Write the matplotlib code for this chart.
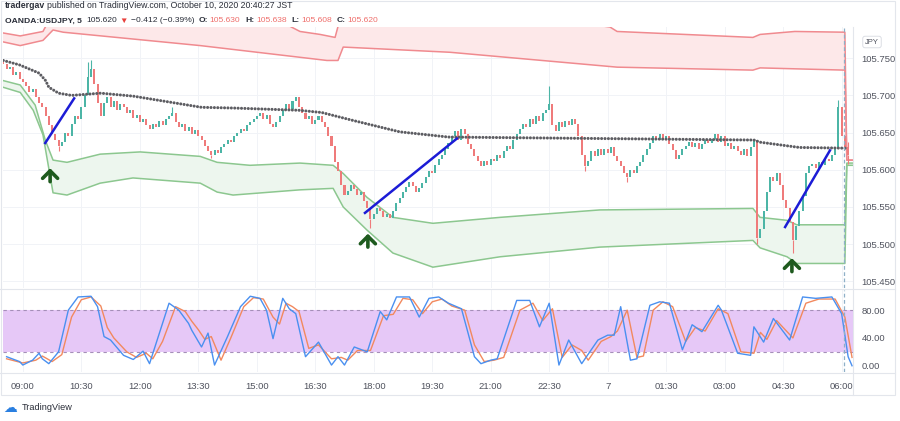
import matplotlib
matplotlib.use("Agg")
import matplotlib.pyplot as plt
import numpy as np

# ---- price data (5-minute bars, index 0 = 09:00) ----
first_index = -6
first_open = 105.745
closes = [
    105.742, 105.735, 105.738, 105.728, 105.732, 105.722,
    105.718, 105.712, 105.705, 105.708, 105.698, 105.690, 105.684,
    105.672, 105.660, 105.648, 105.640, 105.632,
    105.638, 105.650, 105.645, 105.662, 105.672, 105.668, 105.685,
    105.700, 105.725, 105.735, 105.715, 105.690, 105.672,
    105.690, 105.698, 105.685, 105.692, 105.680, 105.688,
    105.684, 105.676, 105.680, 105.670, 105.673, 105.664, 105.668, 105.660,
    105.655, 105.662, 105.658, 105.666, 105.660, 105.668, 105.672, 105.676, 105.664,
    105.658, 105.662, 105.652, 105.657, 105.648, 105.654, 105.645,
    105.640, 105.632, 105.625, 105.620, 105.626, 105.622, 105.630,
    105.634, 105.640, 105.637, 105.646, 105.650, 105.655, 105.652, 105.660, 105.664, 105.668,
    105.672, 105.676, 105.668, 105.674, 105.662, 105.658, 105.664,
    105.672, 105.680, 105.688, 105.682, 105.692, 105.698, 105.684,
    105.676, 105.668, 105.672, 105.662, 105.667, 105.672, 105.664,
    105.658, 105.645, 105.632, 105.610, 105.598, 105.580, 105.566,
    105.572, 105.580, 105.574, 105.566, 105.570, 105.558, 105.548,
    105.534, 105.540, 105.548, 105.544, 105.536, 105.540, 105.535,
    105.545, 105.555, 105.562, 105.570, 105.577, 105.584,
    105.578, 105.570, 105.575, 105.582,
    105.590, 105.598, 105.595, 105.606, 105.614, 105.620, 105.628, 105.636,
    105.645, 105.652, 105.640, 105.655, 105.648, 105.635, 105.628,
    105.618, 105.612, 105.605, 105.612, 105.606, 105.615,
    105.612, 105.620, 105.616, 105.625, 105.632, 105.628, 105.640,
    105.648, 105.655, 105.662, 105.658, 105.668, 105.662, 105.672, 105.666, 105.676, 105.680,
    105.688, 105.660, 105.652, 105.664, 105.658, 105.665, 105.660, 105.668, 105.662,
    105.645, 105.620, 105.605, 105.612, 105.625, 105.618, 105.628,
    105.620, 105.628, 105.622, 105.630, 105.618, 105.612,
    105.605, 105.596, 105.590, 105.600, 105.595, 105.605, 105.610,
    105.620, 105.628, 105.636, 105.645, 105.640, 105.648, 105.642, 105.646,
    105.635, 105.626, 105.615, 105.620, 105.628,
    105.632, 105.638, 105.630, 105.636, 105.628, 105.634, 105.640, 105.636,
    105.642, 105.648, 105.638, 105.645, 105.632, 105.636,
    105.628, 105.632, 105.625, 105.620, 105.628, 105.618, 105.630, 105.640,
    105.508, 105.520, 105.545,
    105.570, 105.590, 105.585, 105.595, 105.580,
    105.560, 105.548, 105.530, 105.505,
    105.525, 105.545, 105.565,
    105.595, 105.605, 105.608, 105.602, 105.610, 105.606, 105.615, 105.612, 105.620,
    105.628, 105.685, 105.645, 105.630, 105.620,
]
high_spikes = {20: 105.745, 21: 105.748, 46: 105.684, 162: 105.712, 226: 105.640,
               251: 105.694, 254: 105.638}
low_spikes = {11: 105.625, 58: 105.616, 107: 105.522, 173: 105.598, 186: 105.584,
              226: 105.500, 237: 105.488, 254: 105.608}

# VWAP (grey dots)
vwap_idx = [-6, -1, 5, 7, 8, 11, 15, 24, 34, 55, 65, 85, 92, 101, 116, 131, 178, 225, 227, 239, 254]
vwap_px = [105.747, 105.741, 105.730, 105.720, 105.711, 105.703, 105.700, 105.703, 105.699,
           105.684, 105.683, 105.680, 105.677, 105.667, 105.651, 105.644, 105.642, 105.640,
           105.637, 105.630, 105.629]

# upper bands (red)
up2_idx = [-6.1, -0.8, 6.2, 8.4, 39.2, 82.2, 85.3, 91.5, 96.1, 98, 146.9, 180.7, 182.9,
           224.7, 226.9, 237.6, 253, 253.6, 255.5]
up2_px = [105.784, 105.780, 105.786, 105.804, 105.812, 105.793, 105.786, 105.782, 105.778,
          105.809, 105.812, 105.792, 105.786, 105.778, 105.782, 105.786, 105.785, 105.613, 105.613]
up1_idx = [-6.1, -0.8, 6.2, 9.3, 12.4, 54.6, 93.6, 97, 98.6, 131.5, 182.9, 224.7, 226.9,
           253, 253.6, 255.5]
up1_px = [105.772, 105.767, 105.774, 105.788, 105.785, 105.767, 105.747, 105.747, 105.765,
          105.758, 105.738, 105.734, 105.737, 105.734, 105.613, 105.613]

# lower bands (green)
lo1_idx = [-6.1, -0.8, 3.8, 6.9, 9.3, 13.6, 23.8, 36.1, 54.6, 59.8, 69.9, 85.3, 95.5, 98.6,
           105.9, 113.9, 126.2, 146.9, 177.6, 224.7, 226.9, 235.2, 238.2, 253, 253.6, 255.5]
lo1_px = [105.720, 105.714, 105.687, 105.640, 105.613, 105.610, 105.621, 105.624, 105.618,
          105.610, 105.606, 105.609, 105.606, 105.595, 105.563, 105.536, 105.528, 105.536,
          105.546, 105.548, 105.536, 105.532, 105.526, 105.526, 105.609, 105.609]
lo2_idx = [-6.1, -0.8, 3.2, 6.2, 9.3, 13.6, 23.8, 33.9, 54.6, 59.8, 64.7, 85.3, 95.5, 98.6,
           105.9, 113.9, 126.2, 146.9, 177.6, 224.7, 226.9, 235.2, 238.2, 253, 253.6, 255.5]
lo2_px = [105.711, 105.704, 105.680, 105.647, 105.569, 105.566, 105.582, 105.589, 105.582,
          105.570, 105.566, 105.573, 105.575, 105.550, 105.519, 105.488, 105.469, 105.483,
          105.496, 105.505, 105.495, 105.483, 105.474, 105.474, 105.606, 105.606]

# trend lines and arrows drawn by the author
trend_lines = [((6.9, 105.636), (15.8, 105.696)),
               ((105.3, 105.542), (133.6, 105.642)),
               ((234.6, 105.523), (248.4, 105.626))]
arrow_idx = [8.4, 106.2, 236.7]
arrow_px = [105.593, 105.505, 105.472]

# Stoch RSI
k_idx = [-5, -1, 0, 3, 5, 6, 8, 11, 14, 17, 21, 23, 25, 27, 31, 34, 37, 39, 41, 45, 48, 51,
         52, 55, 57, 59, 63, 67, 70, 73, 75, 77, 80, 82, 84, 87, 91, 95, 97, 99, 102, 106,
         110, 112, 115, 119, 122, 125, 128, 131, 135, 139, 141, 144, 146, 152, 156, 159,
         162, 165, 168, 170, 172, 177, 180, 182, 184, 187, 189, 193, 196, 199, 203, 206,
         209, 214, 215, 220, 224, 225, 228, 231, 236, 240, 244, 249, 252, 254, 255.2]
k_val = [13, 6, 1, 8, 18, 10, 3, 20, 80, 99, 100, 85, 42, 37, 15, 9, 21, 3, 32, 90, 80, 61,
         51, 27, 47, 1, 42, 85, 100, 97, 80, 39, 97, 82, 75, 13, 34, 1, 13, 1, 27, 20,
         78, 66, 99, 99, 70, 97, 99, 90, 82, 13, 3, 8, 10, 94, 94, 56,
         90, 1, 37, 20, 3, 37, 44, 44, 85, 8, 10, 87, 92, 90, 23, 59,
         49, 87, 80, 18, 15, 56, 34, 68, 37, 99, 97, 99, 75, 13, 0]
d_idx = [-5, 0, 4, 6, 9, 12, 15, 18, 21, 24, 26, 28, 32, 35, 38, 40, 43, 47, 50, 52, 54,
         56, 58, 61, 64, 68, 71, 74, 77, 79, 81, 83, 85, 88, 91, 95, 98, 100, 103, 107,
         111, 114, 117, 120, 123, 126, 129, 132, 136, 139, 142, 145, 148, 153, 157, 160,
         163, 166, 169, 172, 174, 178, 181, 183, 186, 189, 191, 194, 197, 200, 204, 207,
         210, 214, 217, 221, 225, 227, 229, 232, 237, 241, 245, 250, 253, 255.2]
d_val = [10, 4, 8, 14, 6, 16, 70, 95, 99, 86, 55, 40, 20, 12, 18, 10, 35, 85, 78, 64, 52,
         38, 42, 8, 40, 85, 98, 96, 70, 60, 90, 85, 78, 25, 30, 10, 12, 8, 22, 22,
         72, 74, 97, 95, 75, 92, 96, 86, 80, 30, 6, 8, 12, 80, 90, 65,
         82, 12, 30, 22, 8, 35, 42, 50, 80, 12, 14, 80, 92, 85, 35, 55,
         50, 82, 75, 20, 18, 48, 38, 65, 40, 90, 96, 96, 70, 12]

time_ticks = [0, 18, 36, 54, 72, 90, 108, 126, 144, 162, 180, 198, 216, 234, 252]
time_labels = ["09:00", "10:30", "12:00", "13:30", "15:00", "16:30", "18:00", "19:30",
               "21:00", "22:30", "7", "01:30", "03:00", "04:30", "06:00"]
price_ticks = [105.45, 105.50, 105.55, 105.60, 105.65, 105.70, 105.75]
osc_ticks = [0, 40, 80]

# ---- figure ----
W, H = 900, 421
fig = plt.figure(figsize=(W / 100, H / 100), dpi=100)
fig.patch.set_facecolor("white")
plt.rcParams["font.family"] = ["Liberation Sans", "DejaVu Sans"]


def fpos(x, y):
    return x / W, 1 - y / H


ax = fig.add_axes([3 / W, 1 - 288 / H, 850 / W, 261 / H])
ax2 = fig.add_axes([3 / W, 1 - 372 / H, 850 / W, 82 / H])

XMIN, XMAX = -6.1, 255.5
grid_c = "#f1f3f7"
for a in (ax, ax2):
    a.set_xlim(XMIN, XMAX)
    for s in a.spines.values():
        s.set_visible(False)
    for t in time_ticks:
        a.axvline(t, color=grid_c, lw=0.7, zorder=0)
    a.yaxis.tick_right()
    a.tick_params(axis="y", length=0, labelsize=6.8, labelcolor="#50535e", pad=6)
    a.tick_params(axis="x", length=0)

ax.set_ylim(105.441, 105.792)
for p in price_ticks:
    ax.axhline(p, color=grid_c, lw=0.7, zorder=0)
ax.set_yticks(price_ticks)
ax.set_yticklabels([f"{p:.3f}" for p in price_ticks])
ax.set_xticks([])

# bands
ax.fill(np.concatenate([up2_idx, up1_idx[::-1]]), np.concatenate([up2_px, up1_px[::-1]]),
        color="#fde8e9", lw=0, zorder=1)
ax.plot(up2_idx, up2_px, color="#f08a8f", lw=1.1, zorder=2)
ax.plot(up1_idx, up1_px, color="#f08a8f", lw=1.1, zorder=2)
ax.fill(np.concatenate([lo1_idx, lo2_idx[::-1]]), np.concatenate([lo1_px, lo2_px[::-1]]),
        color="#edf6ee", lw=0, zorder=1)
ax.plot(lo1_idx, lo1_px, color="#8cc78f", lw=1.1, zorder=2)
ax.plot(lo2_idx, lo2_px, color="#8cc78f", lw=1.1, zorder=2)

# candles
idx = np.arange(first_index, first_index + len(closes))
closes_a = np.array(closes)
opens_a = np.concatenate([[first_open], closes_a[:-1]])
up = closes_a >= opens_a
col = np.where(up, "#4cb5a6", "#ef7b7b")
body_lo = np.minimum(opens_a, closes_a)
body_h = np.maximum(np.abs(closes_a - opens_a), 0.0012)
for i, hi in high_spikes.items():
    k = i - first_index
    ax.vlines(i, max(opens_a[k], closes_a[k]), hi, color=col[k], lw=0.8, zorder=3)
for i, lo in low_spikes.items():
    k = i - first_index
    ax.vlines(i, lo, min(opens_a[k], closes_a[k]), color=col[k], lw=0.8, zorder=3)
ax.bar(idx, body_h, bottom=body_lo, width=0.62, color=col, lw=0, zorder=3)

# VWAP dots
ax.plot(vwap_idx, vwap_px, color="#5d5d62", lw=2.2, ls=(0, (0.01, 1.1)),
        dash_capstyle="round", zorder=4)

# trend lines and arrows
for (x0, y0), (x1, y1) in trend_lines:
    ax.plot([x0, x1], [y0, y1], color="#1c1cd6", lw=1.8, zorder=5)
for i, p in zip(arrow_idx, arrow_px):
    ax.annotate("", xy=(i, p + 0.009), xytext=(i, p - 0.009),
                arrowprops=dict(arrowstyle="->,head_width=0.45,head_length=0.45",
                                lw=2.6, color="#1e5a1e", mutation_scale=12,
                                shrinkA=0, shrinkB=0), zorder=6)

# current-bar marker line
for a in (ax, ax2):
    a.axvline(252.6, color="#8fb0c8", lw=0.9, ls=(0, (3, 2)), zorder=6)

# oscillator
ax2.set_ylim(-9, 109)
ax2.axhspan(20, 80, color="#e6c8f7", lw=0, zorder=1)
ax2.axhline(80, color="#a58fb8", lw=0.8, ls=(0, (3, 3)), zorder=2)
ax2.axhline(20, color="#a58fb8", lw=0.8, ls=(0, (3, 3)), zorder=2)
ax2.plot(d_idx, d_val, color="#f2895e", lw=1.0, zorder=3)
ax2.plot(k_idx, k_val, color="#4a90f0", lw=1.0, zorder=4)
ax2.set_yticks(osc_ticks)
ax2.set_yticklabels([f"{v:.2f}" for v in osc_ticks])
ax2.set_xticks(time_ticks)
ax2.set_xticklabels(time_labels, fontsize=6.8, color="#50535e")
ax2.tick_params(axis="x", pad=7)

# frame / separators
frame_c = "#e3e6ec"
fig.add_artist(plt.Rectangle(fpos(0.5, 395), 894 / W, 394.5 / H, fill=False,
                             ec=frame_c, lw=0.8, transform=fig.transFigure))
fig.add_artist(plt.Line2D([853 / W, 853 / W], [1 - 395 / H, 1 - 27 / H], color=frame_c,
                          lw=0.8, transform=fig.transFigure))
fig.add_artist(plt.Line2D([0, 895 / W], [1 - 289 / H] * 2, color=frame_c, lw=0.8,
                          transform=fig.transFigure))
fig.add_artist(plt.Line2D([0, 895 / W], [1 - 373 / H] * 2, color=frame_c, lw=0.8,
                          transform=fig.transFigure))

fig.text(*fpos(872, 42), "JPY", fontsize=5.5, color="#50535e", ha="center", va="center",
         bbox=dict(boxstyle="round,pad=0.3", fc="white", ec="#d6d9e0", lw=0.6))

# header
dark = "#2a2e39"
red = "#ef6f6c"
renderer = fig.canvas.get_renderer()


def header_line(pieces, y, size):
    x = 5
    for txt, w, c, gap in pieces:
        t = fig.text(*fpos(x, y), txt, fontsize=size, weight=w, color=c, va="center",
                     family=["Liberation Sans", "DejaVu Sans"])
        x += t.get_window_extent(renderer).width + gap


header_line([("tradergav", "bold", dark, 2),
             ("published on TradingView.com, October 10, 2020 20:40:27 JST", "normal", dark, 0)],
            6, 6.3)
header_line([("OANDA:USDJPY, 5", "bold", dark, 4), ("105.620", "normal", dark, 3),
             ("\u25bc", "normal", "#e8403c", 3),
             ("\u22120.412 (\u22120.39%)", "normal", dark, 4),
             ("O:", "bold", dark, 1.5), ("105.630", "normal", red, 5),
             ("H:", "bold", dark, 1.5), ("105.638", "normal", red, 5),
             ("L:", "bold", dark, 1.5), ("105.608", "normal", red, 5),
             ("C:", "bold", dark, 1.5), ("105.620", "normal", red, 0)],
            21, 6.1)

# footer logo
fig.text(*fpos(3, 408), "\u2601", fontsize=10, color="#2a7fe0", va="center",
         family="DejaVu Sans")
fig.text(*fpos(22, 408), "TradingView", fontsize=6.6, color="#2a2e39", va="center")

fig.savefig("out.png", dpi=100, facecolor="white")
